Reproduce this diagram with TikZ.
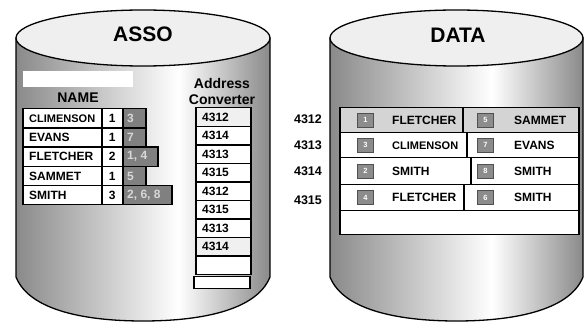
\documentclass[tikz,border=0pt]{standalone}
\usepackage{fontspec}
\setmainfont{Liberation Sans}
\definecolor{cylgray}{HTML}{8A8A8A}
\definecolor{topfill}{HTML}{EFEFEF}
\definecolor{idfill}{HTML}{808080}
\definecolor{idtext}{HTML}{D8D8D8}
\definecolor{rowgray}{HTML}{D4D4D4}
\definecolor{lightrow}{HTML}{F0F0F0}
\definecolor{sqfill}{HTML}{8C8C8C}
\definecolor{sqedge}{HTML}{505050}
\pgfdeclarehorizontalshading{cylshade}{100bp}{color(0bp)=(cylgray); color(25bp)=(cylgray); color(57bp)=(white); color(75bp)=(cylgray); color(100bp)=(cylgray)}
\tikzset{
  outline/.style={draw=black, line width=1.3pt},
  boxcell/.style={draw=black, line width=1.5pt, fill=white, inner sep=0pt, anchor=north west},
  idcell/.style={draw=black, line width=1.5pt, fill=idfill, inner sep=0pt, anchor=north west},
  tabtxt/.style={font=\bfseries\fontsize{12}{12}\selectfont, inner sep=0pt},
  smalltxt/.style={font=\bfseries\fontsize{11}{11}\selectfont, inner sep=0pt},
  idtxt/.style={font=\bfseries\fontsize{12}{12}\selectfont, text=idtext, inner sep=0pt},
  sq/.style={draw=sqedge, line width=0.9pt, fill=sqfill, minimum width=16pt, minimum height=14pt, inner sep=0pt,
    font=\bfseries\fontsize{7.5}{7.5}\selectfont, text=white},
  title/.style={font=\bfseries\fontsize{21}{21}\selectfont, inner sep=0pt},
  head/.style={font=\bfseries\fontsize{14}{16}\selectfont, inner sep=0pt, align=center},
}
\begin{document}
\begin{tikzpicture}[x=1pt, y=-1pt]
\useasboundingbox (0,0) rectangle (587,323);
% ---------- left cylinder ----------
\path[outline, shading=cylshade] (16,38) -- (16,277) .. controls (30,312) and (90,321) .. (143,321)
   .. controls (196,321) and (256,312) .. (270,277) -- (270,38) -- cycle;
\draw[outline, fill=topfill] (143,38) ellipse [x radius=127, y radius=28];
\node[title] (asso) at (143,34) {ASSO};
% ---------- right cylinder ----------
\path[outline, shading=cylshade] (330,38) -- (330,277) .. controls (344,312) and (404,321) .. (456.5,321)
   .. controls (509,321) and (569,312) .. (583,277) -- (583,38) -- cycle;
\draw[outline, fill=topfill] (456.5,38) ellipse [x radius=126.5, y radius=28];
\node[title] (data) at (458,35) {DATA};
% ---------- name table ----------
\node[fill=white, inner sep=0pt, minimum width=110pt, minimum height=16pt, anchor=north west] (blank) at (23,71) {};
\node[head] (namehead) at (78,98) {NAME};
\foreach \i/\nm/\c/\ids/\w/\f in {0/CLIMENSON/1/3/23/smalltxt, 1/EVANS/1/7/23/tabtxt, 2/FLETCHER/2/{1, 4}/35/tabtxt, 3/SAMMET/1/5/23/tabtxt, 4/SMITH/3/{2, 6, 8}/49/tabtxt}{
  \pgfmathsetmacro\yy{108+19.2*\i}
  \node[idcell, minimum width=\w pt, minimum height=19.2pt] (id\i) at (122,\yy) {};
  \node[idtxt, anchor=west] (idt\i) at ([xshift=5pt]id\i.west) {\ids};
  \node[boxcell, minimum width=79pt, minimum height=19.2pt] (nm\i) at (22,\yy) {};
  \node[\f, anchor=west] (nmt\i) at ([xshift=7pt]nm\i.west) {\nm};
  \node[boxcell, minimum width=21pt, minimum height=19.2pt] (ct\i) at (101,\yy) {};
  \node[tabtxt] (ctt\i) at (ct\i.center) {\c};
}
% ---------- address converter ----------
\node[head] (convhead) at (222,91) {Address\\Converter};
\foreach \i/\v/\fc in {0/4312/lightrow, 1/4314/white, 2/4313/white, 3/4315/white, 4/4312/white, 5/4315/white, 6/4313/white, 7/4314/lightrow, 8//white}{
  \pgfmathsetmacro\yy{107+18.55*\i}
  \node[boxcell, fill=\fc, minimum width=55pt, minimum height=18.55pt] (ac\i) at (195,\yy) {};
  \node[tabtxt, anchor=west] (act\i) at ([xshift=7pt]ac\i.west) {\v};
}
\node[boxcell, minimum width=56pt, minimum height=12pt] (ac9) at (193,276) {};
% ---------- data table ----------
\foreach \i/\ya/\yb/\dv/\fc/\la/\na/\fa/\lb/\nb in {
  0/107/132/462/rowgray/1/FLETCHER/tabtxt/5/SAMMET,
  1/132/157/466/white/3/CLIMENSON/smalltxt/7/EVANS,
  2/157/184/470/white/2/SMITH/tabtxt/8/SMITH,
  3/184/210/463/white/4/FLETCHER/tabtxt/6/SMITH}{
  \pgfmathsetmacro\hh{\yb-\ya}
  \pgfmathsetmacro\wl{\dv-339}
  \pgfmathsetmacro\wr{578-\dv}
  \node[boxcell, fill=\fc, minimum width=\wl pt, minimum height=\hh pt] (dl\i) at (339,\ya) {};
  \node[boxcell, fill=\fc, minimum width=\wr pt, minimum height=\hh pt] (dr\i) at (\dv,\ya) {};
  \node[sq, anchor=west] (sql\i) at ([xshift=18pt]dl\i.west) {\la};
  \node[\fa, anchor=west] (dlt\i) at ([xshift=53pt]dl\i.west) {\na};
  \node[sq, anchor=west] (sqr\i) at ([xshift=477pt-\dv pt]dr\i.west) {\lb};
  \node[tabtxt, anchor=west] (drt\i) at ([xshift=514pt-\dv pt]dr\i.west) {\nb};
}
\node[boxcell, minimum width=239pt, minimum height=24pt] (dempty) at (339,210) {};
% ---------- address labels ----------
\node[font=\bfseries\fontsize{12.5}{12.5}\selectfont, inner sep=0pt] (l4312) at (308,119) {4312};
\node[font=\bfseries\fontsize{12.5}{12.5}\selectfont, inner sep=0pt] (l4313) at (308,145) {4313};
\node[font=\bfseries\fontsize{12.5}{12.5}\selectfont, inner sep=0pt] (l4314) at (308,171) {4314};
\node[font=\bfseries\fontsize{12.5}{12.5}\selectfont, inner sep=0pt] (l4315) at (308,200) {4315};
\end{tikzpicture}
\end{document}
